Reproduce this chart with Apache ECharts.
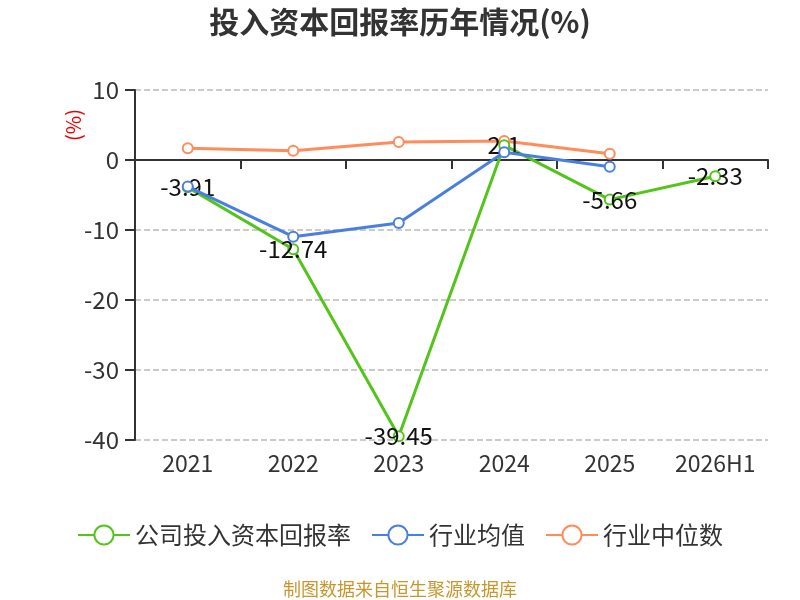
<!DOCTYPE html>
<html style="height: 100%">
<head>
    <meta charset="utf-8">
</head>
<body style="height: 100%; margin: 0">
<div id="container" style="height: 100%"></div>
<script type="text/javascript" src="https://cdn.jsdelivr.net/npm/echarts@6/dist/echarts.min.js"></script>
<script type="text/javascript">
    const years = ['2021', '2022', '2023', '2024', '2025', '2026H1'];
    const companyRoic = [-3.91, -12.74, -39.45, 2.1, -5.66, -2.33];
    const industryAvg = [-3.8, -10.95, -9.0, 1.1, -0.95, null];
    const industryMedian = [1.67, 1.33, 2.57, 2.71, 0.9, null];

    var dom = document.getElementById("container");
    var myChart = echarts.init(dom);
    var font = 'Noto Sans CJK SC';

    var option = {
        title: {
            text: '投入资本回报率历年情况(%)',
            left: 'center',
            top: 2,
            textStyle: {fontSize: 30, fontWeight: 'bold', color: '#333', fontFamily: font}
        },
        legend: {
            bottom: 48,
            itemWidth: 52,
            itemHeight: 24,
            itemGap: 20,
            textStyle: {fontSize: 24, color: '#333', fontFamily: font},
            data: ['公司投入资本回报率', '行业均值', '行业中位数']
        },
        graphic: [{
            type: 'text',
            left: 'center',
            bottom: 2,
            style: {text: '制图数据来自恒生聚源数据库', fill: '#c9962e', fontSize: 18, fontFamily: font}
        }, {
            type: 'text',
            x: 73,
            y: 125,
            rotation: Math.PI / 2,
            style: {text: '(%)', fill: '#e00', fontSize: 20, fontFamily: font, align: 'center', verticalAlign: 'middle'}
        }],
        grid: {left: 135, right: 32, top: 90, bottom: 160},
        xAxis: [{
            type: 'category',
            data: years,
            axisLine: {onZero: true, lineStyle: {color: '#333', width: 2}},
            axisTick: {show: true, length: 9, lineStyle: {color: '#333', width: 2}},
            axisLabel: {show: false}
        }, {
            type: 'category',
            data: years,
            position: 'bottom',
            axisLine: {show: false},
            axisTick: {show: false},
            axisLabel: {interval: 0, fontSize: 23, color: '#333', margin: 12, fontFamily: font}
        }],
        yAxis: {
            type: 'value',
            min: -40,
            max: 10,
            interval: 10,
            axisLine: {show: true, lineStyle: {color: '#333', width: 2}},
            axisTick: {show: true, length: 10, lineStyle: {color: '#333', width: 2}},
            axisLabel: {fontSize: 24, color: '#333', margin: 16, fontFamily: font},
            splitLine: {lineStyle: {type: 'dashed', color: '#bbb', width: 1.5}}
        },
        series: [{
            name: '公司投入资本回报率',
            type: 'line',
            data: companyRoic,
            symbol: 'emptyCircle',
            symbolSize: 10,
            itemStyle: {color: '#52c41a'},
            lineStyle: {width: 3},
            z: 3,
            label: {show: true, position: 'inside', fontSize: 24, color: '#111', fontFamily: font}
        }, {
            name: '行业均值',
            type: 'line',
            data: industryAvg,
            symbol: 'emptyCircle',
            symbolSize: 10,
            itemStyle: {color: '#4a7fe2'},
            lineStyle: {width: 3},
            z: 4
        }, {
            name: '行业中位数',
            type: 'line',
            data: industryMedian,
            symbol: 'emptyCircle',
            symbolSize: 10,
            itemStyle: {color: '#ff8c59'},
            lineStyle: {width: 3},
            z: 2
        }]
    };

    myChart.setOption(option);
</script>
</body>
</html>
